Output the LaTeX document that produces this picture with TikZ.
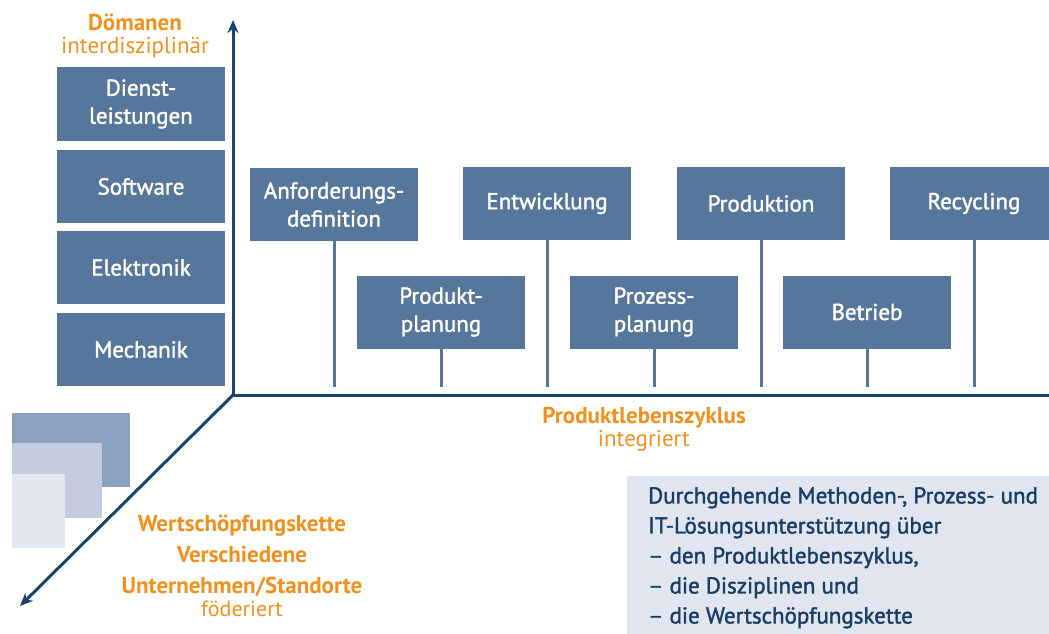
\documentclass[tikz,border=0pt]{standalone}
\usepackage{fontspec}
\setmainfont{PT Sans}
\newfontfamily\medfont[FakeBold=1.6]{PT Sans}
\usetikzlibrary{arrows.meta,positioning}
\definecolor{boxblue}{RGB}{86,118,155}
\definecolor{axisblue}{RGB}{22,68,110}
\definecolor{textblue}{RGB}{24,62,104}
\definecolor{labelorange}{RGB}{240,145,30}
\definecolor{infobg}{RGB}{224,229,239}
\definecolor{sqdark}{RGB}{140,161,192}
\definecolor{sqmid}{RGB}{196,204,223}
\definecolor{sqlight}{RGB}{226,231,241}

\begin{document}
\begin{tikzpicture}[x=1pt,y=-1pt,line cap=round]
      \useasboundingbox (0,0) rectangle (1049,634);

      % Standorte
      \fill[sqdark]  (12,413) rectangle (130,487);
      \fill[sqmid]   (12,443) rectangle (102,518);
      \fill[sqlight] (12,474) rectangle (65,548);

      % Achsen
      \coordinate (O) at (233,395);
      \coordinate (Ytop) at (233,20);
      \coordinate (Xend) at (1049,395);
      \coordinate (Zend) at (20,606);
      \coordinate (S) at (0,387);
      \tikzstyle{axisline}=[line width=3pt, axisblue, line cap=butt];
      \draw[axisline,-{Stealth[length=13pt,width=11pt]}] (O) -- (Ytop);
      \draw[axisline] (O) -- (Xend);
      \draw[axisline,-{Stealth[length=13pt,width=11pt]}] (O) -- (Zend);

      % Domaenen
      \tikzstyle{domainbox}=[fill=boxblue, text=white, minimum width=168pt, minimum height=73pt,
        inner sep=0pt, align=center, font=\medfont\fontsize{23}{28}\selectfont];
      \node[domainbox] (dl) at (141,104)   {Dienst-\\leistungen};
      \node[domainbox] (sw) at (141,186.5) {Software};
      \node[domainbox] (el) at (141,267.5) {Elektronik};
      \node[domainbox] (me) at (141,349.5) {Mechanik};

      % Lebenszyklus
      \tikzstyle{phasebox}=[domainbox];
      \tikzstyle{stem}=[line width=3pt, boxblue, line cap=butt];
      \node[phasebox] (anf) at (334,204.5) {Anforderungs-\\definition};
      \node[phasebox] (ent) at (547,203.5) {Entwicklung};
      \node[phasebox] (pro) at (761,203.5) {Produktion};
      \node[phasebox] (rec) at (974,203.5) {Recycling};
      \node[phasebox] (ppl) at (441,312)   {Produkt-\\planung};
      \node[phasebox] (zpl) at (654,312)   {Prozess-\\planung};
      \node[phasebox] (bet) at (867,312)   {Betrieb};
      \foreach \n in {anf,ent,pro,rec,ppl,zpl,bet}
        \draw[stem] (\n.south) -- (\n.south |- S);

      % Achsenbeschriftung
      \tikzstyle{axislabel}=[text=labelorange, align=center, inner sep=0pt];
      \node[axislabel, font=\fontsize{23}{23}\selectfont] (dom) at (135,36)
        {\textbf{Dömanen}\\interdisziplinär};
      \node[axislabel, font=\fontsize{23}{23}\selectfont] (plz) at (644,429)
        {\textbf{Produktlebenszyklus}\\integriert};
      \node[axislabel, font=\fontsize{23}{31}\selectfont\bfseries] (wsk) at (242,556)
        {Wertschöpfungskette\\Verschiedene\\Unternehmen/Standorte};
      \node[axislabel, font=\fontsize{22}{22}\selectfont] (fed) at (242,609) {föderiert};

      % Zusammenfassung
      \fill[infobg] (627,476) rectangle (1049,634);
      \node[anchor=north west, align=left, text=textblue, inner sep=0pt,
        font=\medfont\fontsize{23}{30}\selectfont] (info) at (648,487)
        {Durchgehende Methoden-, Prozess- und\\
         IT-Lösungsunterstützung über\\
         – den Produktlebenszyklus,\\
         – die Disziplinen und\\
         – die Wertschöpfungskette};
    \end{tikzpicture}
\end{document}
